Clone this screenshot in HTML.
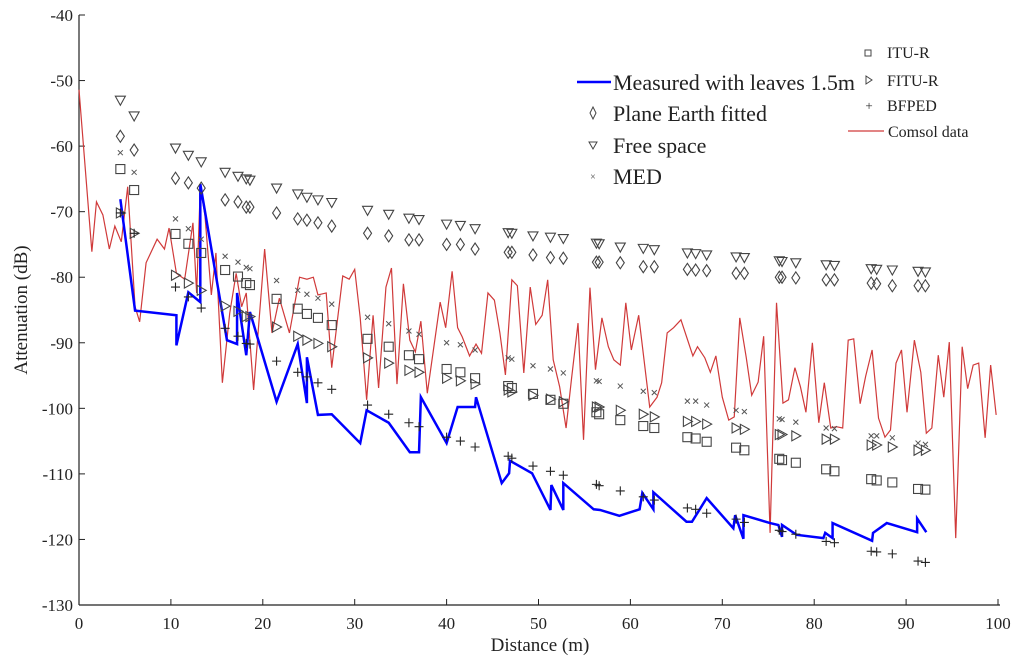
<!DOCTYPE html>
<html><head><meta charset="utf-8"><style>
body{margin:0;background:#fff}
svg{display:block;font-family:"Liberation Serif",serif}
</style></head><body>
<svg id="chart" width="1024" height="664" viewBox="0 0 1024 664" xmlns="http://www.w3.org/2000/svg">
<g id="axes"></g>
<g id="comsol"></g>
<g id="measured"></g>
<g id="markers"></g>
<g id="legend">
  <line x1="577" y1="82" x2="611" y2="82" stroke="#0000ff" stroke-width="2.5"/>
  <text x="613" y="90" font-size="22" fill="#222">Measured with leaves 1.5m</text>
  <path d="M593,107 L596,113 L593,119 L590,113 Z" fill="none" stroke="#444"/>
  <text x="613" y="121" font-size="22" fill="#222">Plane Earth fitted</text>
  <path d="M589,142 L597,142 L593,149 Z" fill="none" stroke="#444"/>
  <text x="613" y="153" font-size="22" fill="#222">Free space</text>
  <text x="593" y="180" font-size="10" fill="#444" text-anchor="middle">×</text>
  <text x="613" y="184" font-size="22" fill="#222">MED</text>
  <rect x="865" y="50" width="6" height="6" fill="none" stroke="#444"/>
  <text x="887" y="58" font-size="16" fill="#222">ITU-R</text>
  <path d="M866,76 L872,80 L866,84 Z" fill="none" stroke="#444"/>
  <text x="887" y="86" font-size="16" fill="#222">FITU-R</text>
  <text x="869" y="110" font-size="13" fill="#222" text-anchor="middle">+</text>
  <text x="887" y="111" font-size="16" fill="#222">BFPED</text>
  <line x1="848" y1="131" x2="884" y2="131" stroke="#d03a3a" stroke-width="1.2"/>
  <text x="888" y="137" font-size="16" fill="#222">Comsol data</text>
</g>
</svg>
<script>
const xTicks=[0,10,20,30,40,50,60,70,80,90,100];
const yTicks=[-40,-50,-60,-70,-80,-90,-100,-110,-120,-130];
const markerX=[4.5,6,10.5,11.9,13.3,15.9,17.3,18.2,18.6,21.5,23.8,24.8,26,27.5,31.4,33.7,35.9,37,40,41.5,43.1,46.7,47.1,49.4,51.3,52.7,56.3,56.6,58.9,61.4,62.6,66.2,67.1,68.3,71.5,72.4,76.2,76.5,78,81.3,82.2,86.2,86.8,88.5,91.3,92.1];
const freeSpace=[-53,-55.4,-60.3,-61.4,-62.4,-64,-64.6,-65,-65.2,-66.4,-67.3,-67.8,-68.2,-68.6,-69.8,-70.4,-71,-71.2,-71.9,-72.1,-72.6,-73.2,-73.3,-73.7,-73.9,-74.1,-74.8,-74.9,-75.4,-75.6,-75.8,-76.3,-76.4,-76.6,-76.9,-77,-77.5,-77.6,-77.8,-78.1,-78.2,-78.7,-78.8,-78.9,-79.1,-79.2];
const planeEarth=[-58.5,-60.6,-64.9,-65.6,-66.4,-68.2,-68.5,-69.3,-69.3,-70.2,-71.1,-71.3,-71.7,-72.2,-73.3,-73.7,-74.3,-74.3,-75,-75,-75.7,-76.2,-76.2,-76.6,-77,-77.1,-77.7,-77.7,-77.8,-78.4,-78.4,-78.8,-78.9,-79,-79.4,-79.4,-80,-80,-80.1,-80.4,-80.4,-80.9,-81,-81.3,-81.3,-81.3];
const ituR=[-63.5,-66.7,-73.4,-74.9,-76.3,-78.9,-79.9,-80.9,-81.2,-83.3,-84.8,-85.6,-86.2,-87.3,-89.4,-90.6,-91.9,-92.5,-94,-94.5,-95.4,-96.6,-96.9,-97.8,-98.7,-99.3,-100.6,-100.9,-101.8,-102.7,-103,-104.4,-104.6,-105.1,-106,-106.4,-107.7,-107.9,-108.3,-109.3,-109.6,-110.8,-111,-111.3,-112.3,-112.4];
const fituR=[-70.2,-73.3,-79.7,-80.9,-82,-84.4,-85.2,-86,-86,-87.6,-89,-89.6,-90.1,-90.6,-92.3,-93.1,-94.2,-94.5,-95.4,-95.8,-96.3,-97.2,-97.5,-98,-98.6,-99,-99.8,-99.8,-100.3,-100.9,-101.3,-102,-102,-102.4,-103,-103.2,-104,-104,-104.2,-104.7,-104.7,-105.6,-105.6,-105.9,-106.4,-106.4];
const med=[-61,-64,-71.1,-72.6,-74.2,-76.8,-77.7,-78.5,-78.7,-80.5,-82,-82.6,-83.2,-84.1,-86.1,-87.1,-88.2,-88.7,-90,-90.3,-91.1,-92.3,-92.5,-93.5,-94,-94.6,-95.8,-95.9,-96.6,-97.4,-97.6,-98.9,-98.9,-99.5,-100.3,-100.5,-101.6,-101.7,-102.1,-103,-103.1,-104.2,-104.2,-104.5,-105.3,-105.5];
const bfped=[-70.2,-73.3,-81.5,-83,-84.7,-87.8,-89,-90.1,-90.2,-92.8,-94.5,-95.2,-96.1,-97.1,-99.5,-100.9,-102.2,-102.8,-104.4,-105,-105.9,-107.3,-107.6,-108.8,-109.6,-110.2,-111.6,-111.8,-112.6,-113.5,-114,-115.2,-115.4,-116,-116.9,-117.4,-118.6,-118.8,-119.2,-120.3,-120.5,-121.8,-121.9,-122.2,-123.3,-123.5];
const measX=[4.5,6.1,10.6,10.6,11.9,13.2,13.2,16.1,17.2,17.2,18.2,18.6,21.5,23.8,24.8,24.8,26,27.5,30.6,31.3,33.7,36,37,37.2,40,41.2,43.1,43.2,46,46.8,46.9,49.3,51.3,51.4,52.7,52.7,56,56.7,58.8,61,61.3,62.5,62.5,66.1,66.7,68.3,71.2,71.4,72.3,72.3,75.2,76.1,76.5,76.5,78.1,81,81.2,82,82,86.3,86.4,87.9,91.2,91.2,92.2];
const measY=[-68.1,-85.1,-85.8,-90.4,-82.3,-83.8,-65.8,-89.6,-90.2,-82.4,-91.9,-85.3,-99,-90.2,-99.2,-92.2,-101,-100.9,-105.3,-100.3,-102.2,-106.7,-106.7,-98.3,-105.3,-99.8,-99.8,-98.3,-111.4,-109.9,-108,-109.9,-115.5,-111.7,-115.5,-111.4,-115.4,-115.5,-116.4,-115.4,-112.9,-115.4,-112.8,-117.3,-117.3,-113.7,-118.3,-116.3,-119.9,-116.3,-117.5,-117.8,-119.6,-117.8,-119.3,-119.8,-119,-119.8,-117.5,-120.2,-119,-117.5,-118.9,-116.8,-118.9];
const comsolX=[0,1.4,1.9,2.6,3.3,3.9,4.6,5.3,6.1,6.6,7.3,8.5,9.3,9.8,10.6,11.5,12.4,12.8,13.2,13.7,14.4,14.9,15.6,16.4,17.1,17.7,18.2,19,20.2,21,21.8,22.9,24,24.8,25.5,26,26.9,27.5,28.7,29.4,30,30.6,31.3,32,32.6,33.4,34,34.6,35.3,36,36.6,37.2,37.9,39.3,39.9,40.6,41.2,41.7,42.5,43.2,43.8,44.5,45.2,45.8,46.4,47.1,47.7,48.4,49.1,49.7,50.4,51,51.6,52.3,53,53.6,54.3,54.9,55.6,56.2,56.9,57.6,58.2,58.9,59.5,60.1,60.9,62.1,62.9,63.4,64,64.7,65.5,66.8,67.3,68.1,68.7,69.3,70,70.7,71.3,71.9,72.6,73.2,73.9,74.5,75.2,75.9,76.6,77.2,77.9,78.5,79.1,79.8,80.5,81.1,81.8,82.4,83.1,83.7,84.3,85,85.6,86.3,87,87.7,88.3,88.9,89.5,90.1,90.9,91.6,92.2,92.8,93.5,94.1,94.7,95.4,96.1,96.7,97.3,97.9,98.6,99.2,99.8];
const comsolY=[-51.4,-76.1,-68.5,-70.5,-75.7,-72.2,-74.6,-66.2,-84.5,-86.8,-77.8,-74.2,-75.7,-72.5,-79.4,-80.3,-71.7,-82.4,-66.2,-70.5,-82.7,-76.3,-96.1,-85.5,-79.4,-84.5,-82.4,-97.2,-75.7,-88.5,-83.2,-88.5,-80,-80.3,-80,-82.7,-82.4,-93.8,-79.8,-80.3,-78.8,-86.2,-98.7,-85.8,-96.9,-81.5,-78.6,-96.3,-81,-89.6,-91.4,-86.7,-97.7,-83.8,-87.7,-79.1,-87.7,-89.1,-92,-90.2,-91.6,-82.4,-83.5,-88.5,-94.9,-80.4,-81.3,-94.6,-81.5,-87.2,-85.8,-80.4,-92.6,-96.7,-103,-95.4,-87,-104.8,-81.6,-94.1,-86.2,-90.6,-92.6,-93.4,-83.9,-91.1,-85.8,-99.8,-98.3,-96.1,-88.5,-87.7,-86.5,-92,-90.6,-92.3,-94.5,-92,-98.3,-101.8,-101.3,-86.2,-92.2,-98,-96,-89,-119,-83.9,-99.2,-98.7,-93.8,-96.7,-100.6,-90,-102.2,-96.1,-103,-102.8,-103,-89.6,-89.4,-99.3,-95.1,-91.1,-101.5,-104.4,-103.3,-93.1,-91.1,-100.6,-89.6,-94.5,-103.8,-103,-91.9,-98.3,-89.9,-119.8,-90.6,-97,-93.4,-93.1,-104.5,-93.4,-101];

const NS='http://www.w3.org/2000/svg';
const X0=79,X1=998,Y0=15,Y1=605;
const sx=v=>X0+(v-0)/(100-0)*(X1-X0);
const sy=v=>Y0+(-40-v)/(90)*(Y1-Y0);
function mk(tag,attrs,parent){const e=document.createElementNS(NS,tag);for(const k in attrs)e.setAttribute(k,attrs[k]);parent.appendChild(e);return e;}

const axes=document.getElementById('axes');
let a=mk('line',{x1:X0,y1:Y0,x2:X0,y2:Y1,stroke:'#222','stroke-width':1.2},axes);


a=mk('line',{x1:X0,y1:Y1,x2:X1+2,y2:Y1,stroke:'#222','stroke-width':1.2},axes);


xTicks.forEach(t=>{
  const tk=mk('line',{x1:sx(t),y1:Y1,x2:sx(t),y2:Y1-6,stroke:'#222'},axes);
  
  
  const lb=mk('text',{x:sx(t),y:Y1+24,'font-size':17,'text-anchor':'middle',fill:'#222'},axes);
  lb.textContent=t;
  
  
});
yTicks.forEach(t=>{
  const tk=mk('line',{x1:X0,y1:sy(t),x2:X0+6,y2:sy(t),stroke:'#222'},axes);
  
  
  const lb=mk('text',{x:X0-6,y:sy(t)+6,'font-size':17,'text-anchor':'end',fill:'#222'},axes);
  lb.textContent=t;
  
  
});
let t=mk('text',{x:540,y:651,'font-size':19,'text-anchor':'middle',fill:'#222'},axes);
t.textContent='Distance (m)';


t=mk('text',{x:0,y:0,'font-size':19,'text-anchor':'middle',fill:'#222',transform:'translate(27,310) rotate(-90)'},axes);
t.textContent='Attenuation (dB)';



const cg=document.getElementById('comsol');
let p=mk('polyline',{points:comsolX.map((x,i)=>sx(x)+','+sy(comsolY[i])).join(' '),fill:'none',stroke:'#d03a3a','stroke-width':1.2,'stroke-linejoin':'miter'},cg);



const mg=document.getElementById('measured');
p=mk('polyline',{points:measX.map((x,i)=>sx(x)+','+sy(measY[i])).join(' '),fill:'none',stroke:'#0000ff','stroke-width':2.5,'stroke-linejoin':'miter'},mg);



const kg=document.getElementById('markers');
const C='#444';
markerX.forEach((x,i)=>{
  const cx=sx(x);
  let y=sy(freeSpace[i]);
  let m=mk('path',{d:`M${cx-5},${y-4} L${cx+5},${y-4} L${cx},${y+5} Z`,fill:'none',stroke:C,'stroke-width':1.1},kg);
  
  
  y=sy(planeEarth[i]);
  m=mk('path',{d:`M${cx},${y-6} L${cx+4},${y} L${cx},${y+6} L${cx-4},${y} Z`,fill:'none',stroke:C,'stroke-width':1.1},kg);
  
  
  y=sy(ituR[i]);
  m=mk('rect',{x:cx-4.5,y:y-4.5,width:9,height:9,fill:'none',stroke:C,'stroke-width':1.1},kg);
  
  
  y=sy(fituR[i]);
  m=mk('path',{d:`M${cx-4},${y-5} L${cx+5},${y} L${cx-4},${y+5} Z`,fill:'none',stroke:C,'stroke-width':1.1},kg);
  
  
  y=sy(med[i]);
  m=mk('path',{d:`M${cx-2.5},${y-2.5} L${cx+2.5},${y+2.5} M${cx+2.5},${y-2.5} L${cx-2.5},${y+2.5}`,stroke:'#555','stroke-width':1},kg);
  
  
  y=sy(bfped[i]);
  m=mk('path',{d:`M${cx-4.5},${y} L${cx+4.5},${y} M${cx},${y-4.5} L${cx},${y+4.5}`,stroke:'#222','stroke-width':1.1},kg);
  
  
});
</script>
</body></html>
